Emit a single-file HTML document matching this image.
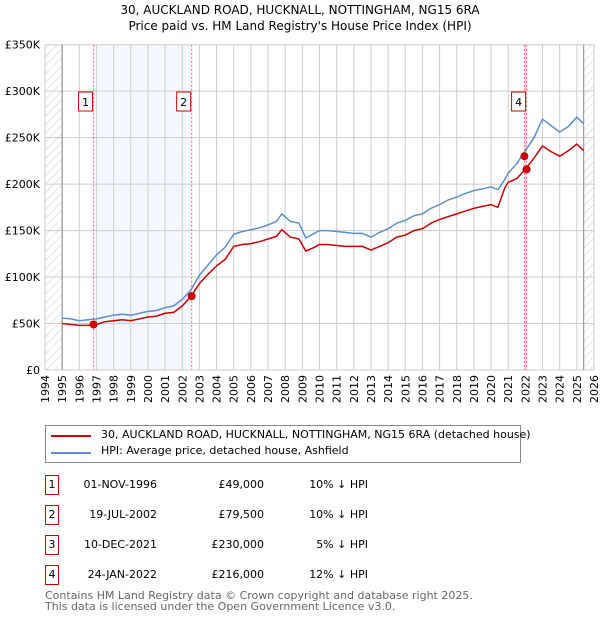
<!DOCTYPE html>
<html><head><meta charset="utf-8"><style>
body{margin:0;width:600px;height:620px;background:#fff;font-family:"DejaVu Sans","Liberation Sans",sans-serif;position:relative;overflow:hidden}
.t{position:absolute;white-space:nowrap;color:#000}
.box{position:absolute;border:1px solid #c00;width:12px;height:18px;font-size:11px;text-align:center;line-height:18px;background:#fff}
</style></head><body>
<div class="t" style="left:0;width:600px;text-align:center;top:2px;font-size:12px;line-height:16px">30, AUCKLAND ROAD, HUCKNALL, NOTTINGHAM, NG15 6RA<br>Price paid vs. HM Land Registry's House Price Index (HPI)</div>
<svg id="chart" width="600" height="420" style="position:absolute;left:0;top:0"></svg>

<div style="position:absolute;left:45px;top:425px;width:474px;height:36px;border:1px solid #888">
<div><div style="position:absolute;left:5px;top:9px;width:40px;height:2px;background:#c00"></div><div class="t" style="left:55px;top:2px;font-size:11px">30, AUCKLAND ROAD, HUCKNALL, NOTTINGHAM, NG15 6RA (detached house)</div></div>
<div><div style="position:absolute;left:5px;top:26px;width:40px;height:2px;background:#5b8fd0"></div><div class="t" style="left:55px;top:18px;font-size:11px">HPI: Average price, detached house, Ashfield</div></div>
</div>

<div id="table"></div>

<div class="t" style="left:45px;top:590px;font-size:11px;line-height:11px;color:#666">Contains HM Land Registry data © Crown copyright and database right 2025.<br>This data is licensed under the Open Government Licence v3.0.</div>

<script>
const hpiYears=[1995,1995.5,1996,1996.5,1997,1997.5,1998,1998.5,1999,1999.5,2000,2000.5,2001,2001.5,2002,2002.5,2003,2003.5,2004,2004.5,2005,2005.5,2006,2006.5,2007,2007.5,2007.8,2008.3,2008.8,2009.2,2009.6,2010,2010.5,2011,2011.5,2012,2012.5,2013,2013.5,2014,2014.5,2015,2015.5,2016,2016.5,2017,2017.5,2018,2018.5,2019,2019.5,2020,2020.4,2020.8,2021,2021.5,2022,2022.5,2023,2023.5,2024,2024.5,2025,2025.4];
const hpiValues=[56,55,53,54,55,57,59,60,59,61,63,64,67,69,76,86,102,113,124,132,146,149,151,153,156,160,168,160,158,142,146,150,150,149,148,147,147,143,148,152,158,161,166,168,174,178,183,186,190,193,195,197,194,205,212,222,236,250,270,263,256,262,272,265];
const ppYears=hpiYears;
const ppValues=[50,49,48,48,49,52,53,54,53,55,57,58,61,62,69,79,93,103,112,119,133,135,136,138,141,144,151,143,141,128,131,135,135,134,133,133,133,129,133,137,143,145,150,152,158,162,165,168,171,174,176,178,175,196,202,206,216,228,241,235,230,236,243,236];
const saleYears=[1996.83,2002.55,2021.94,2022.07];
const salePrices=[49000,79500,230000,216000];
const saleLabels=["1","2","3","4"];
const saleDates=["01-NOV-1996","19-JUL-2002","10-DEC-2021","24-JAN-2022"];
const salePriceText=["£49,000","£79,500","£230,000","£216,000"];
const saleDiff=["10% ↓ HPI","10% ↓ HPI","5% ↓ HPI","12% ↓ HPI"];
const yTicks=[0,50,100,150,200,250,300,350];
const yTickLabels=["£0","£50K","£100K","£150K","£200K","£250K","£300K","£350K"];
const xTicks=[1994,1995,1996,1997,1998,1999,2000,2001,2002,2003,2004,2005,2006,2007,2008,2009,2010,2011,2012,2013,2014,2015,2016,2017,2018,2019,2020,2021,2022,2023,2024,2025,2026];

const X0=45,X1=594,Y0=370,Y1=44.7;
const x=v=>X0+(v-1994)/32*(X1-X0);
const y=v=>Y0-v/350*(Y0-Y1);
const NS="http://www.w3.org/2000/svg";
const svg=document.getElementById('chart');
function mk(tag,attrs,parent){const e=document.createElementNS(NS,tag);for(const k in attrs)e.setAttribute(k,attrs[k]);(parent||svg).appendChild(e);return e;}
const defs=mk('defs',{});
const pat=mk('pattern',{id:'hatch',width:6,height:6,patternUnits:'userSpaceOnUse',patternTransform:'rotate(45)'},defs);
mk('line',{x1:0,y1:0,x2:0,y2:6,stroke:'#ccc','stroke-width':1},pat);
let r=mk('rect',{x:X0,y:Y1,width:x(1995)-X0,height:Y0-Y1,fill:'url(#hatch)'});

r=mk('rect',{x:x(2025.4),y:Y1,width:X1-x(2025.4),height:Y0-Y1,fill:'url(#hatch)'});

r=mk('rect',{x:x(saleYears[0]),y:Y1,width:x(saleYears[1])-x(saleYears[0]),height:Y0-Y1,fill:'#f3f6fd'});

xTicks.forEach(t=>{const l=mk('line',{x1:x(t),x2:x(t),y1:Y1,y2:Y0,stroke:'#ccc','stroke-width':1});

const tx=mk('text',{x:0,y:0,'font-size':11,'text-anchor':'end',transform:`translate(${x(t)+4},${Y0+5}) rotate(-90)`});tx.textContent=t;
});
yTicks.forEach((t,i)=>{const l=mk('line',{x1:X0,x2:X1,y1:y(t),y2:y(t),stroke:'#ccc','stroke-width':1});

const tx=mk('text',{x:40,y:y(t)+4,'font-size':11,'text-anchor':'end'});tx.textContent=yTickLabels[i];
});
[x(1995),x(2025.4)].forEach(xx=>{const l=mk('line',{x1:xx,x2:xx,y1:Y1,y2:Y0,stroke:'#888','stroke-width':1});
});
saleYears.forEach(s=>{const l=mk('line',{x1:x(s),x2:x(s),y1:Y1,y2:Y0,stroke:'#f66','stroke-width':1,'stroke-dasharray':'2,2'});
});
function path(xs,vs){return xs.map((t,i)=>(i?'L':'M')+x(t).toFixed(1)+','+y(vs[i]).toFixed(1)).join('');}
let p=mk('path',{d:path(hpiYears,hpiValues),fill:'none',stroke:'#5b8fd0','stroke-width':1.5});

p=mk('path',{d:path(ppYears,ppValues),fill:'none',stroke:'#c00','stroke-width':1.5});

saleYears.forEach((s,i)=>{const c=mk('circle',{cx:x(s),cy:y(salePrices[i]/1000),r:4,fill:'#c00'});
});
[0,1,3].forEach(i=>{const g=mk('g',{});

mk('rect',{x:x(saleYears[i])-15,y:92,width:14,height:19,fill:'#fff',stroke:'#c00'},g);
const t=mk('text',{x:x(saleYears[i])-8,y:106,'font-size':11,'text-anchor':'middle'},g);t.textContent=saleLabels[i];});

const tb=document.getElementById('table');
saleLabels.forEach((l,i)=>{const top=475+i*30;
const row=document.createElement('div');


row.innerHTML=`<div class="box" style="left:45px;top:${top}px">${l}</div>
<div class="t" style="left:80px;width:77px;text-align:right;top:${top+3}px;font-size:11px">${saleDates[i]}</div>
<div class="t" style="left:180px;width:84px;text-align:right;top:${top+3}px;font-size:11px">${salePriceText[i]}</div>
<div class="t" style="left:280px;width:88px;text-align:right;top:${top+3}px;font-size:11px">${saleDiff[i]}</div>`;
tb.appendChild(row);});
</script>
</body></html>
